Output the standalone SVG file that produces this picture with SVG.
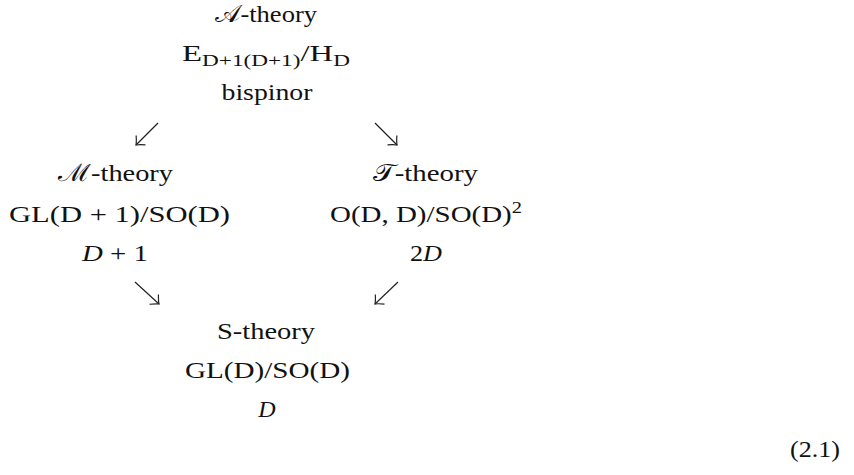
<svg xmlns="http://www.w3.org/2000/svg" width="854" height="475" viewBox="0 0 854 475">
<style>
  text { font-family: "Liberation Serif", "DejaVu Serif", serif; font-size: 24px; fill: #111; text-anchor: middle; }
  .it { font-style: italic; }
  .sub { font-size: 17px; }
  .conn { fill: none; stroke: #222; stroke-width: 1.2; }
</style>
<defs>
  <marker id="ah" viewBox="-10 -10 20 20" markerWidth="20" markerHeight="20" refX="0" refY="0" orient="auto" markerUnits="userSpaceOnUse">
    <path d="M-6.8,-6.6 Q-2.2,-1.4 0,0 Q-2.2,1.4 -6.8,6.6" fill="none" stroke="#222" stroke-width="1.2"/>
  </marker>
</defs>
<rect width="854" height="475" fill="#fff"/>
<g id="node-A">
  <text x="266" y="22" textLength="102" lengthAdjust="spacingAndGlyphs">𝒜-theory</text>
  <text x="266" y="61" textLength="168" lengthAdjust="spacingAndGlyphs">E<tspan class="sub" dy="5">D+1(D+1)</tspan><tspan dy="-5">/H</tspan><tspan class="sub" dy="5">D</tspan></text>
  <text x="267" y="100" textLength="91" lengthAdjust="spacingAndGlyphs">bispinor</text>
</g>
<g id="node-M">
  <text x="115.5" y="181" textLength="115" lengthAdjust="spacingAndGlyphs">ℳ-theory</text>
  <text x="119.5" y="222" textLength="221" lengthAdjust="spacingAndGlyphs">GL(D + 1)/SO(D)</text>
  <text x="115" y="261" textLength="66" lengthAdjust="spacingAndGlyphs"><tspan class="it">D</tspan> + 1</text>
</g>
<g id="node-T">
  <text x="425.5" y="181" textLength="105" lengthAdjust="spacingAndGlyphs">𝒯-theory</text>
  <text x="426" y="222" textLength="192" lengthAdjust="spacingAndGlyphs">O(D, D)/SO(D)<tspan class="sub" dy="-9">2</tspan></text>
  <text x="426" y="261" textLength="32" lengthAdjust="spacingAndGlyphs">2<tspan class="it">D</tspan></text>
</g>
<g id="node-S">
  <text x="266" y="339" textLength="98" lengthAdjust="spacingAndGlyphs">S-theory</text>
  <text x="267.5" y="378" textLength="165" lengthAdjust="spacingAndGlyphs">GL(D)/SO(D)</text>
  <text x="267" y="417" class="it">D</text>
</g>
<g id="eq-number">
  <text x="815" y="457" textLength="50" lengthAdjust="spacingAndGlyphs">(2.1)</text>
</g>
<g id="connectors">
  <line class="conn" x1="158" y1="123" x2="136" y2="145" marker-end="url(#ah)"/>
  <line class="conn" x1="375" y1="123" x2="397" y2="145" marker-end="url(#ah)"/>
  <line class="conn" x1="135" y1="282" x2="159" y2="304" marker-end="url(#ah)"/>
  <line class="conn" x1="398" y1="282" x2="375" y2="304" marker-end="url(#ah)"/>
</g>
</svg>
